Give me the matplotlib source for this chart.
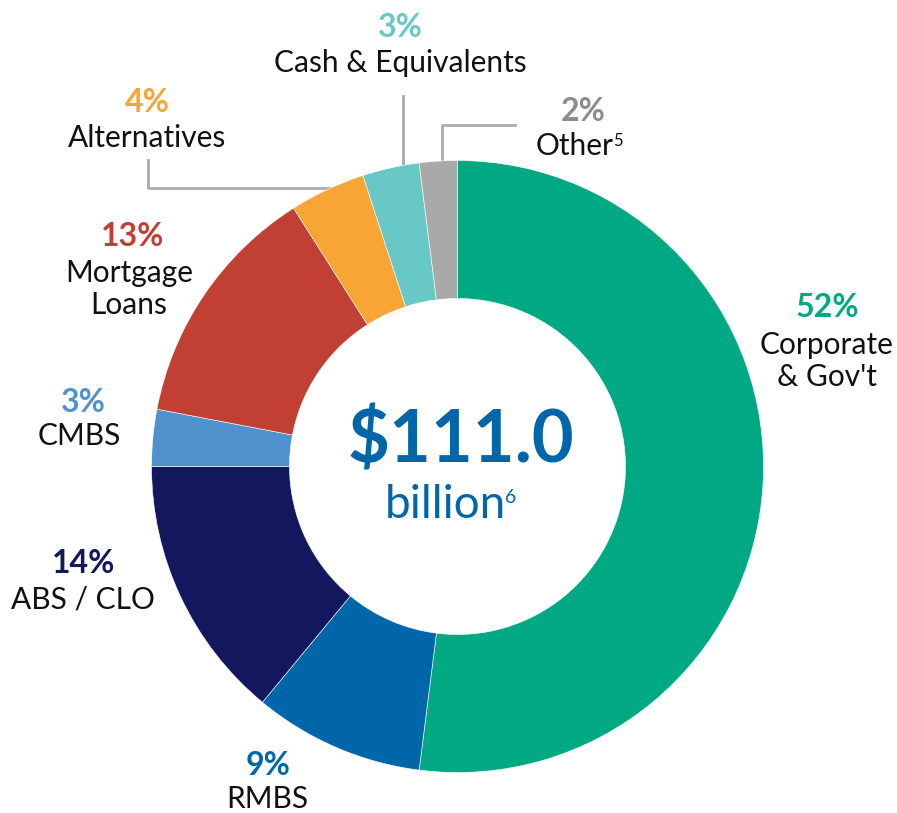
import numpy as np
import matplotlib
matplotlib.use("Agg")
import matplotlib.pyplot as plt

# data (clockwise from 12 o'clock)
categories = ["Corporate\n& Gov't", "RMBS", "ABS / CLO", "CMBS",
              "Mortgage\nLoans", "Alternatives", "Cash & Equivalents", "Other"]
shares = [52, 9, 14, 3, 13, 4, 3, 2]
colors = ["#00A984", "#0066AA", "#13185E", "#4F92CE",
          "#C23F33", "#F8A535", "#67C8C5", "#A9A9A9"]
pct_colors = ["#00A984", "#0066AA", "#13185E", "#4F92CE",
              "#C23F33", "#F8A535", "#67C8C5", "#8C8C8C"]
footnotes = ["", "", "", "", "", "", "", "5"]
total_label = "$111.0"
total_unit = "billion"
total_note = "6"

plt.rcParams['font.family'] = ['Lato', 'DejaVu Sans']

W, H = 897, 813
fig = plt.figure(figsize=(W / 100, H / 100), dpi=100)
ax = fig.add_axes([0, 0, 1, 1])

cx, cy, R, r_in = 457.5, 466.5, 306, 168

# y axis is flipped (pixel coords), so counterclock=True draws clockwise on screen
ax.pie(shares, colors=colors, startangle=-90, counterclock=True,
       center=(cx, cy), radius=R,
       wedgeprops=dict(width=R - r_in, edgecolor="white", linewidth=0.4))
ax.set_xlim(0, W)
ax.set_ylim(H, 0)
ax.set_aspect("equal")
ax.axis("off")

# leader lines (drawn under the ring)
lc = "#AAAAAA"
ax.plot([147.5, 147.5, 360], [160, 188, 188], color=lc, lw=2, zorder=0)
ax.plot([402.5, 402.5], [96, 175], color=lc, lw=2, zorder=0)
ax.plot([441.5, 441.5, 515], [175, 125, 125], color=lc, lw=2, zorder=0)

# labels: (pct x, pct baseline, name x, first name baseline)
label_pos = [
    (827, 317, 827, 354),
    (268, 775, 267, 808),
    (84, 573, 83, 608),
    (83, 412, 79, 445),
    (133, 246, 129, 282),
    (147, 112, 147, 147),
    (400, 37, 400, 72),
    (583, 121, 575, 155),
]
for cat, val, col, note, (px, py, nx, ny) in zip(categories, shares, pct_colors,
                                                  footnotes, label_pos):
    ax.text(px, py, f"{val}%", color=col, fontsize=23, fontweight="bold",
            ha="center", va="baseline")
    for i, line in enumerate(cat.split("\n")):
        t = ax.text(nx, ny + i * 32, line, color="#111111", fontsize=21.5,
                    ha="center", va="baseline")
    if note:
        ax.annotate(note, xy=(1, 0.95), xycoords=t, xytext=(-1, 0),
                    textcoords="offset points", fontsize=12, color="#111111",
                    ha="left", va="top")

# centre total
ax.text(cx + 3, 462, total_label, color="#0066AA", fontsize=52,
        fontweight="bold", ha="center", va="baseline")
tb = ax.text(cx - 12, 518, total_unit, color="#0066AA", fontsize=33,
             ha="center", va="baseline")
ax.annotate(total_note, xy=(1, 0.88), xycoords=tb, xytext=(-1, 0),
            textcoords="offset points", fontsize=14, color="#0066AA",
            ha="left", va="top")

fig.savefig("out.png", dpi=100, facecolor="white")
